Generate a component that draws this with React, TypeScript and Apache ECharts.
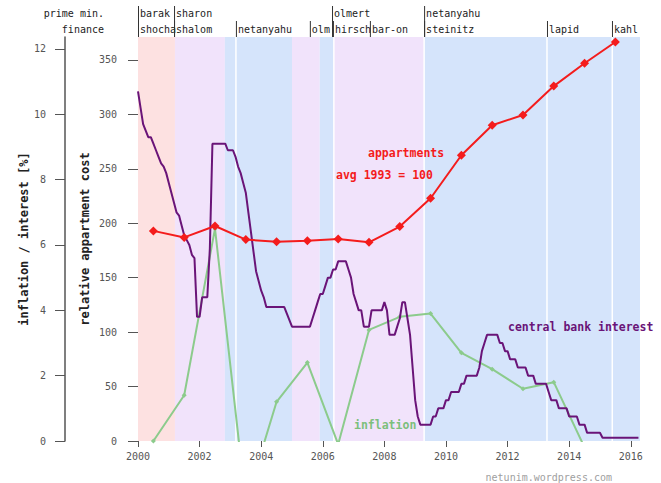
import React, { useEffect, useRef } from 'react';
import * as echarts from 'echarts';

const MONO = "'DejaVu Sans Mono', 'Liberation Mono', monospace";

// yearly values (plotted at mid-year)
const years = [2000, 2001, 2002, 2003, 2004, 2005, 2006, 2007, 2008, 2009, 2010, 2011, 2012, 2013, 2014, 2015];
const apartmentCost = [193, 187, 197.5, 185, 183, 184, 185.5, 182.5, 197, 223, 262.5, 290, 299.5, 326, 347, 366.5];
const inflation = [0.0, 1.4, 6.5, -1.9, 1.2, 2.4, -0.1, 3.4, 3.8, 3.9, 2.7, 2.2, 1.6, 1.8, -0.2, -1.0];

// central bank interest, monthly from Jan 2000
const interestStart = 2000;
const interestMonthly = [
  10.7, 10.2, 9.7, 9.5, 9.3, 9.3, 9.1, 8.9, 8.7, 8.5, 8.4, 8.2,
  7.9, 7.6, 7.3, 7.0, 6.9, 6.6, 6.3, 6.15, 6.0, 5.7, 5.6, 3.8,
  3.8, 4.4, 4.4, 4.4, 5.9, 9.1, 9.1, 9.1, 9.1, 9.1, 9.1, 8.9,
  8.9, 8.9, 8.7, 8.4, 8.2, 7.9, 7.6, 7.0, 6.4, 5.8, 5.2, 4.9,
  4.6, 4.4, 4.1, 4.1, 4.1, 4.1, 4.1, 4.1, 4.1, 4.1, 3.9, 3.7,
  3.5, 3.5, 3.5, 3.5, 3.5, 3.5, 3.5, 3.5, 3.75, 4.0, 4.25, 4.5,
  4.5, 4.75, 5.0, 5.0, 5.25, 5.25, 5.5, 5.5, 5.5, 5.5, 5.25, 5.0,
  4.5, 4.25, 4.0, 4.0, 3.5, 3.5, 3.5, 4.0, 4.0, 4.0, 4.0, 4.0,
  4.25, 4.0, 3.25, 3.25, 3.25, 3.5, 3.75, 4.25, 4.25, 3.75, 3.25, 2.25,
  1.25, 0.75, 0.5, 0.5, 0.5, 0.5, 0.5, 0.75, 0.75, 1.0, 1.0, 1.0,
  1.25, 1.25, 1.5, 1.5, 1.5, 1.5, 1.75, 1.75, 2.0, 2.0, 2.0, 2.0,
  2.0, 2.25, 2.75, 3.0, 3.25, 3.25, 3.25, 3.25, 3.25, 3.0, 3.0, 2.75,
  2.75, 2.5, 2.5, 2.5, 2.25, 2.25, 2.25, 2.25, 2.0, 2.0, 2.0, 1.75,
  1.75, 1.75, 1.75, 1.75, 1.5, 1.25, 1.25, 1.25, 1.0, 1.0, 1.0, 1.0,
  0.75, 0.75, 0.75, 0.75, 0.5, 0.5, 0.5, 0.25, 0.25, 0.25, 0.25, 0.25,
  0.25, 0.1, 0.1, 0.1, 0.1, 0.1, 0.1, 0.1, 0.1, 0.1, 0.1, 0.1,
  0.1, 0.1, 0.1, 0.1,
];

// axes ticks
const yearTicks = [2000, 2002, 2004, 2006, 2008, 2010, 2012, 2014, 2016];
const costTicks = [0, 50, 100, 150, 200, 250, 300, 350];
const pctTicks = [0, 2, 4, 6, 8, 10, 12];

// background periods
const bandStarts = [2000, 2001.2, 2002.82, 2005.0, 2005.9, 2006.36, 2009.29];
const bandEnds = [2001.2, 2002.82, 2005.0, 2005.9, 2006.36, 2009.29, 2016.3];
const bandKinds = [0, 1, 2, 1, 2, 1, 2];
const bandColors = ['#fde1e1', '#f1e3fb', '#d5e4fb'];
const dividerYears = [2003.18, 2006.36, 2009.29, 2013.28, 2015.4];

// header: prime ministers (row 0) and finance ministers (row 1)
const pmYears = [2000, 2001.17, 2006.3, 2009.29];
const pmNames = ['barak', 'sharon', 'olmert', 'netanyahu'];
const finYears = [2000, 2001.17, 2003.18, 2005.58, 2006.33, 2007.53, 2009.29, 2013.28, 2015.39];
const finNames = ['shocha', 'shalom', 'netanyahu', 'olm', 'hirsch', 'bar-on', 'steinitz', 'lapid', 'kahl'];

const X_MIN = 2000;
const X_MAX = 2016.3;

export default function App() {
  const ref = useRef<HTMLDivElement>(null);

  useEffect(() => {
    if (!ref.current) return;
    const chart = echarts.init(ref.current, null, { renderer: 'svg' });

    const headerYears = [...pmYears, ...finYears];
    const headerNames = [...pmNames, ...finNames];
    const headerRows = [...pmYears.map(() => 0), ...finYears.map(() => 1)];

    const apartmentData = years.map((y, i) => [y + 0.5, apartmentCost[i]]);
    const inflationData = years.map((y, i) => [y + 0.5, inflation[i]]);
    const interestData = interestMonthly.map((v, i) => [interestStart + i / 12, v]);

    const axisText = { color: '#555', fontSize: 10, fontFamily: MONO };

    chart.setOption({
      animation: false,
      grid: { left: 138, right: 21, top: 37, bottom: 42, containLabel: false },
      xAxis: {
        type: 'value',
        min: X_MIN,
        max: X_MAX,
        axisLine: { show: false },
        splitLine: { show: false },
        axisTick: { show: true, length: 6, customValues: yearTicks, lineStyle: { color: '#555' } },
        axisLabel: { ...axisText, margin: 10, customValues: yearTicks, formatter: (v: number) => String(Math.round(v)) },
      },
      yAxis: [
        {
          type: 'value',
          position: 'left',
          min: 0,
          max: 371.1,
          offset: 0,
          axisLine: { show: false },
          splitLine: { show: false },
          axisTick: { show: true, length: 10, customValues: costTicks, lineStyle: { color: '#555' } },
          axisLabel: { ...axisText, margin: 21, customValues: costTicks },
          name: 'relative appartment cost',
          nameLocation: 'middle',
          nameGap: 47,
          nameRotate: 90,
          nameMoveOverlap: false,
          nameTextStyle: { fontWeight: 'bold', fontSize: 12, fontFamily: MONO, color: '#222' },
        },
        {
          type: 'value',
          position: 'left',
          min: 0,
          max: 12.367,
          offset: 73,
          axisLine: { show: true, lineStyle: { color: '#555', width: 1.5 } },
          splitLine: { show: false },
          axisTick: { show: true, length: 10, customValues: pctTicks, lineStyle: { color: '#555' } },
          axisLabel: { ...axisText, margin: 19, customValues: pctTicks },
          name: 'inflation / interest [%]',
          nameLocation: 'middle',
          nameGap: 35,
          nameRotate: 90,
          nameMoveOverlap: false,
          nameTextStyle: { fontWeight: 'bold', fontSize: 12, fontFamily: MONO, color: '#222' },
        },
      ],
      series: [
        {
          type: 'custom',
          silent: true,
          z: 0,
          xAxisIndex: 0,
          yAxisIndex: 0,
          data: bandStarts.map((s, i) => [s, bandEnds[i], bandKinds[i]]),
          encode: { x: [0, 1], y: 2 },
          renderItem: (params: any, api: any) => {
            const a = api.coord([api.value(0), 0]);
            const b = api.coord([api.value(1), 0]);
            const cs = params.coordSys;
            return {
              type: 'rect',
              shape: { x: a[0], y: cs.y, width: b[0] - a[0], height: cs.height },
              style: { fill: bandColors[api.value(2)] },
            };
          },
        },
        {
          type: 'custom',
          silent: true,
          z: 1,
          xAxisIndex: 0,
          yAxisIndex: 0,
          data: dividerYears.map((y) => [y, 0]),
          renderItem: (params: any, api: any) => {
            const a = api.coord([api.value(0), 0]);
            const cs = params.coordSys;
            return {
              type: 'line',
              shape: { x1: a[0], y1: cs.y, x2: a[0], y2: cs.y + cs.height },
              style: { stroke: '#ffffff', lineWidth: 1.5 },
            };
          },
        },
        {
          type: 'custom',
          silent: true,
          z: 2,
          clip: false,
          xAxisIndex: 0,
          yAxisIndex: 0,
          data: headerYears.map((y) => [y, 0]),
          renderItem: (params: any, api: any) => {
            const i = params.dataIndex;
            const x = api.coord([api.value(0), 0])[0];
            const row = headerRows[i];
            const top = row === 0 ? 6 : 21;
            return {
              type: 'group',
              children: [
                {
                  type: 'line',
                  shape: { x1: x + 0.5, y1: top, x2: x + 0.5, y2: 37 },
                  style: { stroke: '#333', lineWidth: 1 },
                },
                {
                  type: 'text',
                  x: x + 2,
                  y: row === 0 ? 13 : 29,
                  style: {
                    text: headerNames[i],
                    fill: '#222',
                    fontSize: 10,
                    fontFamily: MONO,
                    align: 'left',
                    verticalAlign: 'middle',
                  },
                },
              ],
            };
          },
        },
        {
          type: 'line',
          name: 'inflation',
          xAxisIndex: 0,
          yAxisIndex: 1,
          z: 3,
          data: inflationData,
          clip: true,
          symbol: 'diamond',
          symbolSize: 5,
          itemStyle: { color: '#8ccb8c' },
          lineStyle: { color: '#8ccb8c', width: 2 },
        },
        {
          type: 'line',
          name: 'central bank interest',
          xAxisIndex: 0,
          yAxisIndex: 1,
          z: 4,
          data: interestData,
          clip: true,
          showSymbol: false,
          symbol: 'none',
          itemStyle: { color: '#6a1478' },
          lineStyle: { color: '#6a1478', width: 2 },
        },
        {
          type: 'line',
          name: 'appartments',
          xAxisIndex: 0,
          yAxisIndex: 0,
          z: 5,
          data: apartmentData,
          clip: false,
          symbol: 'diamond',
          symbolSize: 9,
          itemStyle: { color: '#f41c1c' },
          lineStyle: { color: '#f41c1c', width: 2 },
        },
      ],
      graphic: [
        { type: 'text', x: 104, y: 13, style: { text: 'prime min.', fill: '#222', fontSize: 10, fontFamily: MONO, align: 'right', verticalAlign: 'middle' } },
        { type: 'text', x: 104, y: 29, style: { text: 'finance', fill: '#222', fontSize: 10, fontFamily: MONO, align: 'right', verticalAlign: 'middle' } },
        { type: 'text', x: 368, y: 153, z: 10, style: { text: 'appartments', fill: '#f41c1c', fontSize: 11.5, fontWeight: 'bold', fontFamily: MONO, align: 'left', verticalAlign: 'middle' } },
        { type: 'text', x: 336, y: 175, z: 10, style: { text: 'avg 1993 = 100', fill: '#f41c1c', fontSize: 11.5, fontWeight: 'bold', fontFamily: MONO, align: 'left', verticalAlign: 'middle' } },
        { type: 'text', x: 508, y: 327, z: 10, style: { text: 'central bank interest', fill: '#6a1478', fontSize: 11.5, fontWeight: 'bold', fontFamily: MONO, align: 'left', verticalAlign: 'middle' } },
        { type: 'text', x: 354, y: 425, z: 10, style: { text: 'inflation', fill: '#7cbf7c', fontSize: 11.5, fontWeight: 'bold', fontFamily: MONO, align: 'left', verticalAlign: 'middle' } },
        { type: 'text', x: 612, y: 477, style: { text: 'netunim.wordpress.com', fill: '#a0a0a0', fontSize: 10, fontFamily: MONO, align: 'right', verticalAlign: 'middle' } },
      ],
    });

    return () => chart.dispose();
  }, []);

  return (
    <div
      ref={ref}
      style={{ position: 'absolute', left: 0, top: 0, width: 661, height: 483, background: '#ffffff' }}
    />
  );
}
